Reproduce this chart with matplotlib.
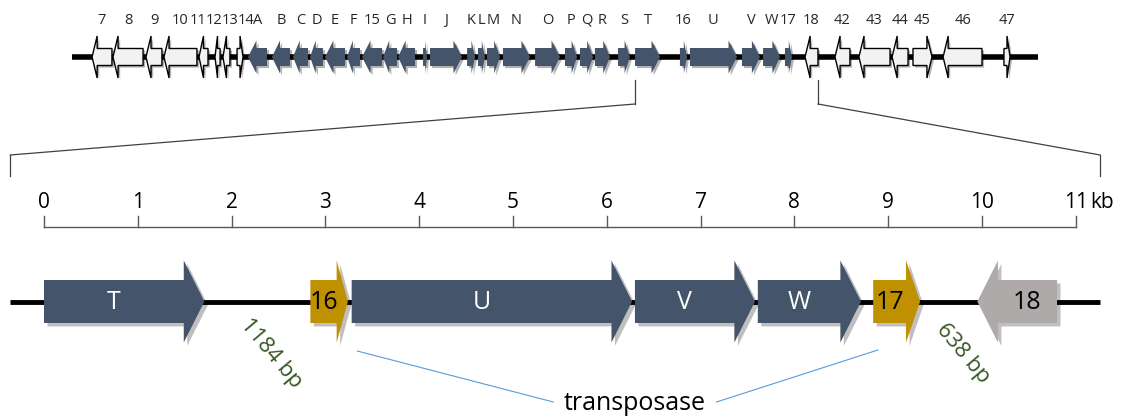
import matplotlib
matplotlib.use("Agg")
import matplotlib.pyplot as plt
import matplotlib.patheffects as pe
from matplotlib.patches import Polygon, ConnectionPatch

plt.rcParams['font.family'] = ['Open Sans', 'DejaVu Sans']

# ---- whole gene cluster (top track), positions in kb from the left end ----
cluster_len = 56.8
top_labels = ['7', '8', '9', '10', '11', '12', '13', '14',
              'A', 'B', 'C', 'D', 'E', 'F', '15', 'G', 'H',
              'I', 'J', 'K', 'L', 'M', 'N', 'O', 'P', 'Q', 'R', 'S', 'T',
              '16', 'U', 'V', 'W', '17',
              '18', '42', '43', '44', '45', '46', '47']
top_start = [1.18, 2.41, 4.35, 5.41, 7.47, 8.41, 8.88, 9.71,
             10.35, 11.76, 13.0, 14.0, 14.88, 16.18, 17.06, 18.29, 19.18,
             20.65, 21.06, 23.24, 23.88, 24.41, 25.35, 27.24, 29.0, 29.88, 30.76, 32.12, 33.12,
             35.76, 36.35, 39.41, 40.65, 41.94,
             43.12, 44.88, 46.29, 48.24, 49.47, 51.24, 54.82]
top_end = [2.35, 4.18, 5.29, 7.35, 8.0, 8.71, 9.29, 10.06,
           11.47, 12.82, 13.88, 14.76, 16.06, 16.94, 18.24, 19.12, 20.18,
           20.88, 22.94, 23.71, 24.29, 25.18, 26.94, 28.71, 29.71, 30.65, 31.65, 32.82, 34.59,
           36.18, 39.12, 40.47, 41.65, 42.35,
           43.88, 45.76, 48.12, 49.18, 50.59, 53.53, 55.18]
top_strand = [-1] * 7 + [1] + [-1] * 9 + [1] * 17 + [-1] * 4 + [1, -1, 1]
top_group = ['flank'] * 8 + ['core'] * 26 + ['flank'] * 7

# ---- zoomed region (bottom track), kb ----
bot_labels = ['T', '16', 'U', 'V', 'W', '17', '18']
bot_start = [0.0, 2.84, 3.28, 6.30, 7.61, 8.84, 9.95]
bot_end = [1.71, 3.24, 6.27, 7.58, 8.71, 9.34, 10.80]
bot_strand = [1, 1, 1, 1, 1, 1, -1]
bot_role = ['core', 'transposase', 'core', 'core', 'core', 'transposase', 'flank']
bot_region = (-0.36, 11.26)
gap_after = ['T', '17']
gap_bp = [1184, 638]
scale_ticks = list(range(0, 12))

colors = {'core': '#44546A', 'transposase': '#BF9000', 'flank': '#AEAAAA'}


def arrow_pts(start, end, strand, head, bh, hh, y):
    head = min(head, end - start)
    if strand > 0:
        b = end - head
        return [(start, y - bh), (b, y - bh), (b, y - hh), (end, y),
                (b, y + hh), (b, y + bh), (start, y + bh)]
    b = start + head
    return [(end, y - bh), (b, y - bh), (b, y - hh), (start, y),
            (b, y + hh), (b, y + bh), (end, y + bh)]


def spread(centers, widths, pad=0.0, n_iter=50):
    c = list(centers)
    for _ in range(n_iter):
        moved = False
        for i in range(1, len(c)):
            ov = (c[i - 1] + widths[i - 1] / 2 + pad) - (c[i] - widths[i] / 2)
            if ov > 1e-3:
                c[i - 1] -= ov / 2
                c[i] += ov / 2
                moved = True
        if not moved:
            break
    return c


W, H = 1125, 417
fig = plt.figure(figsize=(W / 100, H / 100), dpi=100)

# both tracks share the figure; vertical layout in pixel rows
top_px0, top_scale = 72, 17.0
bot_px0, bot_scale = 44, 93.8

ax_top = fig.add_axes([0, 0, 1, 1])
ax_top.set_xlim(-top_px0 / top_scale, (W - top_px0) / top_scale)
ax_top.set_ylim(H, 0)
ax_top.axis('off')

ax_bot = fig.add_axes([0, 0, 1, 1])
ax_bot.set_xlim(-bot_px0 / bot_scale, (W - bot_px0) / bot_scale)
ax_bot.set_ylim(H, 0)
ax_bot.axis('off')

# ---------------- top track ----------------
y_top = 57
ax_top.plot([0, cluster_len], [y_top, y_top], color='black', lw=4, zorder=1,
            solid_capstyle='butt')
shadow_s = [pe.SimplePatchShadow(offset=(1.5, -1.5), shadow_rgbFace='black', alpha=0.3), pe.Normal()]
for lab, s, e, st, g in zip(top_labels, top_start, top_end, top_strand, top_group):
    if g == 'flank':
        pts = arrow_pts(s, e, st, min(0.3, 0.5 * (e - s)), 8.5, 21, y_top)
        p = Polygon(pts, closed=True, facecolor='#F2F2F2', edgecolor='black', lw=1, zorder=3)
    else:
        pts = arrow_pts(s, e, st, min(0.5, 0.45 * (e - s)), 9, 16.5, y_top)
        p = Polygon(pts, closed=True, facecolor=colors['core'], edgecolor='none', zorder=3)
    p.set_path_effects(shadow_s)
    ax_top.add_patch(p)

centers = [(s + e) / 2 for s, e in zip(top_start, top_end)]
widths = [0.47 * len(l) for l in top_labels]
lab_x = spread(centers, widths)
for lab, x in zip(top_labels, lab_x):
    ax_top.text(x, 20, lab, ha='center', va='center', fontsize=10.5, color='#262626')

# ---------------- bottom track ----------------
y_bot = 301.5
ax_bot.plot(bot_region, [y_bot, y_bot], color='black', lw=3.5, zorder=1,
            solid_capstyle='butt')
shadow_l = [pe.SimplePatchShadow(offset=(2.5, -2.5), shadow_rgbFace='black', alpha=0.25), pe.Normal()]
for lab, s, e, st, role in zip(bot_labels, bot_start, bot_end, bot_strand, bot_role):
    head = min(0.22, 0.3 * (e - s))
    p = Polygon(arrow_pts(s, e, st, head, 21.5, 41, y_bot), closed=True,
                facecolor=colors[role], edgecolor='none', zorder=3)
    p.set_path_effects(shadow_l)
    ax_bot.add_patch(p)
    body_c = (s + e - head) / 2 if st > 0 else (s + head + e) / 2
    ax_bot.text(body_c, y_bot + 1, lab, ha='center', va='center', fontsize=18,
                color='white' if role == 'core' else 'black', zorder=4)

# intergenic distances
for g, bp in zip(gap_after, gap_bp):
    i = bot_labels.index(g)
    mid = (bot_end[i] + bot_start[i + 1]) / 2
    ax_bot.text(mid + 0.15, 353, f'{bp} bp', rotation=-50, rotation_mode='anchor',
                ha='center', va='center', fontsize=16, color='#375623')

# transposase callout
tx = 6.3
ax_bot.text(tx, 403, 'transposase', ha='center', va='center', fontsize=18, color='black')
i16, i17 = bot_labels.index('16'), bot_labels.index('17')
ax_bot.plot([bot_end[i16] + 0.1, tx - 0.87], [351, 402], color='#5B9BD5', lw=0.8)
ax_bot.plot([bot_start[i17] + 0.05, tx + 0.87], [350, 402], color='#5B9BD5', lw=0.8)

# scale bar
ax_bot.plot([scale_ticks[0], scale_ticks[-1]], [227, 227], color='#595959', lw=1)
for t in scale_ticks:
    ax_bot.plot([t, t], [216, 227], color='#595959', lw=1)
    ax_bot.text(t, 202, str(t), ha='center', va='center', fontsize=15)
ax_bot.text(scale_ticks[-1] + 0.15, 202, 'kb', ha='left', va='center', fontsize=15)

# zoom connectors from the cluster map to the expanded region
iT, i18 = top_labels.index('T'), top_labels.index('18')
for xt, xb in [(top_start[iT], bot_region[0]), (top_end[i18], bot_region[1])]:
    ax_top.plot([xt, xt], [80, 104], color='#404040', lw=0.9)
    con = ConnectionPatch(xyA=(xt, 104), coordsA=ax_top.transData,
                          xyB=(xb, 155), coordsB=ax_bot.transData,
                          color='#404040', lw=0.9)
    fig.add_artist(con)
    ax_bot.plot([xb, xb], [155, 176], color='#404040', lw=0.9)

fig.savefig('out.png', dpi=100)
